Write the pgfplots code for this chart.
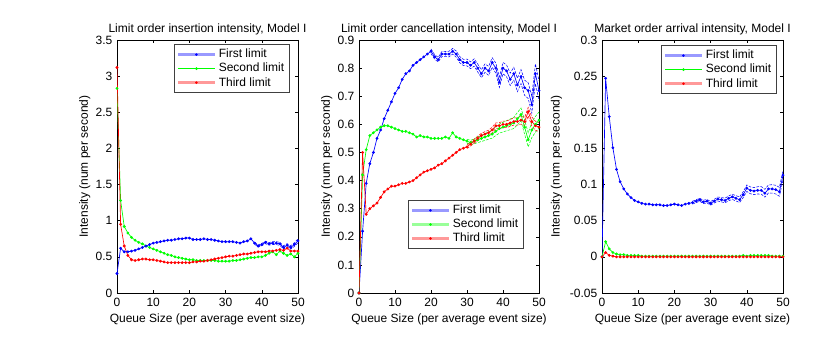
\documentclass[border=0pt]{standalone}
\usepackage{fontspec}
\setmainfont{Liberation Sans}
\usepackage{pgfplots}
\usepackage{pgfplotstable}
\pgfplotsset{compat=1.18}

% ---------- panel 1: limit order insertion ----------
\pgfplotstableread{
x  first second third
0  0.27  2.83  3.12
1  0.62  1.28  0.95
2  0.57  0.92  0.65
3  0.57  0.83  0.52
4  0.58  0.77  0.46
5  0.59  0.73  0.45
6  0.61  0.70  0.46
7  0.63  0.68  0.47
8  0.65  0.65  0.47
9  0.67  0.63  0.46
10 0.69  0.61  0.46
11 0.70  0.59  0.45
12 0.71  0.57  0.44
13 0.72  0.55  0.43
14 0.73  0.53  0.42
15 0.73  0.52  0.42
16 0.74  0.50  0.42
17 0.75  0.49  0.42
18 0.75  0.48  0.42
19 0.76  0.47  0.42
20 0.76  0.46  0.42
21 0.74  0.46  0.43
22 0.74  0.45  0.43
23 0.74  0.45  0.44
24 0.75  0.45  0.44
25 0.74  0.45  0.45
26 0.74  0.45  0.46
27 0.73  0.45  0.47
28 0.72  0.44  0.48
29 0.71  0.44  0.49
30 0.71  0.44  0.50
31 0.71  0.44  0.51
32 0.71  0.45  0.51
33 0.70  0.45  0.52
34 0.69  0.46  0.53
35 0.71  0.47  0.54
36 0.72  0.48  0.54
37 0.75  0.49  0.55
38 0.69  0.49  0.56
39 0.65  0.50  0.57
40 0.67  0.50  0.57
41 0.70  0.52  0.57
42 0.68  0.55  0.58
43 0.69  0.57  0.58
44 0.69  0.53  0.59
45 0.68  0.58  0.60
46 0.63  0.55  0.59
47 0.66  0.52  0.62
48 0.63  0.54  0.58
49 0.67  0.50  0.58
50 0.72  0.55  0.58
}\insertion

\pgfplotstableread{
x  lo    hi
38 0.675 0.705
39 0.635 0.665
40 0.654 0.686
41 0.683 0.717
42 0.662 0.698
43 0.671 0.709
44 0.670 0.710
45 0.659 0.701
46 0.608 0.652
47 0.637 0.683
48 0.606 0.654
49 0.645 0.695
50 0.694 0.746
}\insertionband

% ---------- panel 2: cancellation ----------
\pgfplotstableread{
x  first second third
0  0.000 0.000 0.000
1  0.220 0.420 0.500
2  0.390 0.510 0.280
3  0.460 0.560 0.300
4  0.500 0.570 0.310
5  0.550 0.580 0.320
6  0.580 0.590 0.340
7  0.620 0.595 0.360
8  0.650 0.595 0.370
9  0.680 0.590 0.380
10 0.710 0.585 0.380
11 0.730 0.580 0.385
12 0.760 0.575 0.390
13 0.780 0.575 0.390
14 0.790 0.570 0.395
15 0.810 0.565 0.400
16 0.820 0.555 0.410
17 0.830 0.560 0.420
18 0.840 0.555 0.430
19 0.850 0.555 0.435
20 0.860 0.550 0.440
21 0.840 0.550 0.445
22 0.830 0.550 0.455
23 0.850 0.550 0.460
24 0.850 0.555 0.470
25 0.850 0.550 0.480
26 0.860 0.570 0.490
27 0.850 0.555 0.500
28 0.830 0.550 0.510
29 0.820 0.545 0.515
30 0.820 0.540 0.520
31 0.810 0.535 0.530
32 0.820 0.540 0.540
33 0.800 0.545 0.550
34 0.780 0.550 0.560
35 0.800 0.555 0.565
36 0.790 0.560 0.570
37 0.820 0.565 0.580
38 0.800 0.575 0.595
39 0.750 0.585 0.595
40 0.800 0.590 0.600
41 0.790 0.595 0.600
42 0.760 0.600 0.605
43 0.780 0.605 0.610
44 0.740 0.620 0.610
45 0.770 0.635 0.615
46 0.730 0.590 0.610
47 0.720 0.545 0.645
48 0.670 0.580 0.610
49 0.780 0.600 0.595
50 0.720 0.615 0.590
}\cancel

\pgfplotstableread{
x  lo    hi
20 0.852 0.868
21 0.832 0.848
22 0.822 0.838
23 0.841 0.859
24 0.841 0.859
25 0.840 0.860
26 0.850 0.870
27 0.839 0.861
28 0.819 0.841
29 0.809 0.831
30 0.808 0.832
31 0.798 0.822
32 0.807 0.833
33 0.786 0.814
34 0.766 0.794
35 0.785 0.815
36 0.774 0.806
37 0.803 0.837
38 0.782 0.818
39 0.731 0.769
40 0.780 0.820
41 0.769 0.811
42 0.738 0.782
43 0.757 0.803
44 0.716 0.764
45 0.745 0.795
46 0.703 0.757
47 0.692 0.748
48 0.640 0.700
49 0.745 0.815
50 0.685 0.755
}\cancelbandA

\pgfplotstableread{
x  lo    hi    rlo   rhi
30 0.533 0.547 0.514 0.526
31 0.527 0.543 0.523 0.537
32 0.531 0.549 0.533 0.547
33 0.535 0.555 0.542 0.558
34 0.539 0.561 0.552 0.568
35 0.543 0.567 0.556 0.574
36 0.547 0.573 0.561 0.579
37 0.551 0.579 0.570 0.590
38 0.560 0.590 0.585 0.605
39 0.569 0.601 0.584 0.606
40 0.573 0.607 0.589 0.611
41 0.577 0.613 0.588 0.612
42 0.581 0.619 0.593 0.617
43 0.585 0.625 0.597 0.623
44 0.598 0.642 0.597 0.623
45 0.612 0.658 0.601 0.629
46 0.565 0.615 0.596 0.624
47 0.520 0.570 0.630 0.660
48 0.553 0.607 0.594 0.626
49 0.572 0.628 0.579 0.611
50 0.586 0.644 0.574 0.606
}\cancelbandB

% ---------- panel 3: market orders ----------
\pgfplotstableread{
x  first second third
0  0.000 0.000 0.000
1  0.247 0.021 0.006
2  0.194 0.011 0.002
3  0.151 0.006 0.001
4  0.121 0.004 0.000
5  0.104 0.003 0.000
6  0.094 0.003 0.000
7  0.087 0.002 0.000
8  0.082 0.002 0.000
9  0.078 0.002 0.000
10 0.076 0.002 0.000
11 0.074 0.001 0.000
12 0.073 0.001 0.000
13 0.073 0.001 0.000
14 0.072 0.001 0.000
15 0.072 0.001 0.000
16 0.072 0.001 0.000
17 0.071 0.001 0.000
18 0.071 0.001 0.000
19 0.072 0.001 0.000
20 0.073 0.001 0.000
21 0.072 0.001 0.000
22 0.071 0.001 0.000
23 0.073 0.001 0.000
24 0.074 0.001 0.000
25 0.075 0.001 0.000
26 0.077 0.001 0.000
27 0.079 0.001 0.000
28 0.076 0.001 0.000
29 0.077 0.001 0.000
30 0.074 0.001 0.000
31 0.077 0.001 0.000
32 0.080 0.001 0.000
33 0.079 0.001 0.000
34 0.078 0.001 0.000
35 0.081 0.001 0.000
36 0.083 0.001 0.000
37 0.081 0.001 0.000
38 0.079 0.001 0.000
39 0.086 0.002 0.000
40 0.095 0.001 0.000
41 0.092 0.002 0.000
42 0.091 0.002 0.000
43 0.092 0.002 0.000
44 0.092 0.002 0.000
45 0.088 0.002 0.000
46 0.094 0.002 0.000
47 0.094 0.001 0.000
48 0.093 0.001 0.000
49 0.090 0.001 0.000
50 0.113 0.001 0.000
}\market

\pgfplotstableread{
x  lo     hi
25 0.0730 0.0770
26 0.0750 0.0790
27 0.0770 0.0810
28 0.0737 0.0783
29 0.0746 0.0794
30 0.0715 0.0765
31 0.0744 0.0796
32 0.0772 0.0828
33 0.0760 0.0820
34 0.0748 0.0812
35 0.0777 0.0843
36 0.0795 0.0865
37 0.0773 0.0847
38 0.0752 0.0828
39 0.0820 0.0900
40 0.0905 0.0995
41 0.0873 0.0967
42 0.0862 0.0958
43 0.0870 0.0970
44 0.0868 0.0972
45 0.0826 0.0934
46 0.0884 0.0996
47 0.0882 0.0998
48 0.0870 0.0990
49 0.0838 0.0962
50 0.1065 0.1195
}\marketband

\pgfplotsset{
  panel/.style={
    scale only axis, width=135.75pt, height=189.75pt,
    xmin=0, xmax=50, xtick={0,10,...,50},
    tick align=inside, major tick length=2.5pt,
    axis line style={black, line width=0.5pt},
    tick style={black, line width=0.4pt},
    font=\fontsize{9}{11}\selectfont,
    title style={font=\fontsize{9}{11}\selectfont, yshift=-6pt},
    /pgf/number format/assume math mode=true,
    scaled ticks=false,
    yticklabel style={/pgf/number format/fixed, /pgf/number format/precision=2},
    xlabel={Queue Size (per average event size)},
    ylabel={Intensity (num per second)},
    xlabel style={yshift=1pt},
    ylabel style={yshift=-3pt},
    legend cell align=left,
    legend style={font=\fontsize{9}{11}\selectfont, draw=black!75, line width=0.8pt,
      inner xsep=2pt, inner ysep=1.5pt, row sep=-1.5pt,
      /tikz/every even column/.append style={column sep=2pt}},
    legend image code/.code={
      \draw[mark repeat=2, mark phase=2, #1] plot coordinates {(0cm,0cm) (0.48cm,0cm) (0.96cm,0cm)};},
  },
  main/.style={#1, line width=0.5pt, mark=*, mark size=0.8pt, mark options={solid, fill=#1}},
  band/.style={#1, line width=0.4pt, dash pattern=on 2pt off 1pt, no marks},
  legthick/.style={#1!40, line width=2.2pt, mark=*, mark size=0.75pt, mark options={#1, fill=#1, line width=0.4pt}},
  legthin/.style={#1, line width=0.5pt, mark=*, mark size=0.75pt, mark options={#1, fill=#1}},
}

\begin{document}
\begin{tikzpicture}
\useasboundingbox (0,0) rectangle (622.5pt,258.75pt);

% ----- panel 1 -----
\begin{axis}[panel, at={(87.75pt,39pt)}, anchor=south west,
  ymin=0, ymax=3.5, ytick={0,0.5,...,3.5},
  title={Limit order insertion intensity, Model I},
  legend style={at={(0.956,0.984)}, anchor=north east}]
  \addlegendimage{legthick=blue}
  \addlegendimage{legthin=green}
  \addlegendimage{legthick=red}
  \addplot[band=blue, forget plot] table[x=x, y=lo] {\insertionband};
  \addplot[band=blue, forget plot] table[x=x, y=hi] {\insertionband};
  \addplot[main=green, forget plot] table[x=x, y=second] {\insertion};
  \addplot[main=red, forget plot] table[x=x, y=third] {\insertion};
  \addplot[main=blue, forget plot] table[x=x, y=first] {\insertion};
  \legend{First limit, Second limit, Third limit}
\end{axis}

% ----- panel 2 -----
\begin{axis}[panel, at={(269.25pt,39pt)}, anchor=south west, width=135pt,
  ymin=0, ymax=0.9, ytick={0,0.1,...,0.9},
  title={Limit order cancellation intensity, Model I},
  legend style={at={(0.917,0.174)}, anchor=south east}]
  \addlegendimage{legthick=blue}
  \addlegendimage{legthick=green}
  \addlegendimage{legthick=red}
  \addplot[band=blue, forget plot] table[x=x, y=lo] {\cancelbandA};
  \addplot[band=blue, forget plot] table[x=x, y=hi] {\cancelbandA};
  \addplot[band=green, forget plot] table[x=x, y=lo] {\cancelbandB};
  \addplot[band=green, forget plot] table[x=x, y=hi] {\cancelbandB};
  \addplot[band=red, forget plot] table[x=x, y=rlo] {\cancelbandB};
  \addplot[band=red, forget plot] table[x=x, y=rhi] {\cancelbandB};
  \addplot[main=blue, forget plot] table[x=x, y=first] {\cancel};
  \addplot[main=green, forget plot] table[x=x, y=second] {\cancel};
  \addplot[main=red, forget plot] table[x=x, y=third] {\cancel};
  \legend{First limit, Second limit, Third limit}
\end{axis}

% ----- panel 3 -----
\begin{axis}[panel, at={(451.5pt,39pt)}, anchor=south west,
  ymin=-0.05, ymax=0.3, ytick={-0.05,0,0.05,0.1,0.15,0.2,0.25,0.3},
  ylabel style={yshift=2pt},
  title={Market order arrival intensity, Model I},
  legend style={at={(0.967,0.980)}, anchor=north east}]
  \addlegendimage{legthick=blue}
  \addlegendimage{legthin=green}
  \addlegendimage{legthick=red}
  \addplot[band=blue, forget plot] table[x=x, y=lo] {\marketband};
  \addplot[band=blue, forget plot] table[x=x, y=hi] {\marketband};
  \addplot[main=blue, forget plot] table[x=x, y=first] {\market};
  \addplot[main=green, forget plot] table[x=x, y=second] {\market};
  \addplot[main=red, forget plot] table[x=x, y=third] {\market};
  \legend{First limit, Second limit, Third limit}
\end{axis}
\end{tikzpicture}
\end{document}
